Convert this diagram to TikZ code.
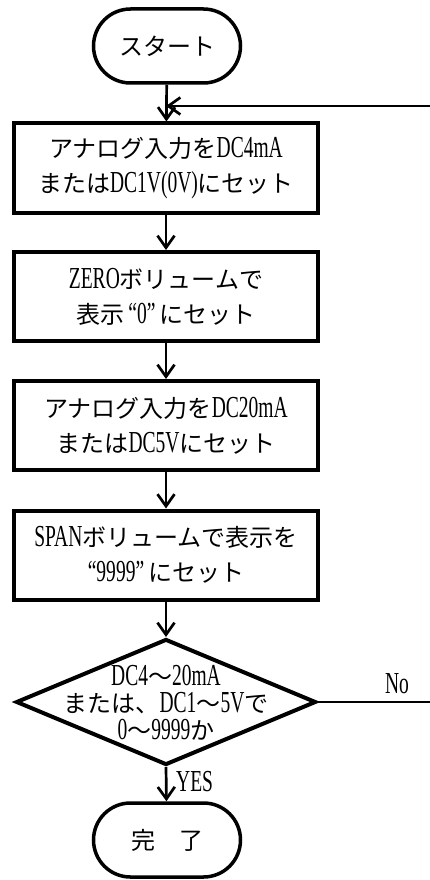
\documentclass[tikz,border=0pt]{standalone}
\usepackage{fontspec}
\setmainfont[FakeStretch=0.64,Scale=1.22]{Liberation Serif}
\newfontfamily\jp[Scale=0.96]{Noto Sans CJK JP}
\usetikzlibrary{arrows.meta,shapes.geometric}
\begin{document}
\begin{tikzpicture}[x=1pt,y=-1pt,
  every node/.style={font=\fontsize{25}{35}\selectfont},
  proc/.style={draw, line width=4pt, minimum width=304pt, minimum height=89pt, align=center, inner sep=0pt},
  term/.style={draw, line width=3.5pt, rounded corners=37pt, minimum width=147pt, minimum height=74pt, inner sep=0pt},
  decision/.style={draw, diamond, line width=4pt, minimum width=300pt, minimum height=126pt, inner sep=0pt},
  conn/.style={line width=2.7pt, -{Straight Barb[length=12pt,width=17pt]}},
  plain/.style={line width=2.7pt},
  lbl/.style={inner sep=0pt}]
\useasboundingbox (0,0) rectangle (430,880);

\node[term] (start) at (167,46) {\jp スタート};
\node[proc] (box1) at (166,168) {{\jp アナログ入力を}DC4mA\\{\jp または}DC1V(0V){\jp にセット}};
\node[proc] (box2) at (166,296.5) {ZERO{\jp ボリュームで}\\{\jp 表示}\hspace{4pt}“0”\hspace{4pt}{\jp にセット}};
\node[proc] (box3) at (166,425.5) {{\jp アナログ入力を}DC20mA\\{\jp または}DC5V{\jp にセット}};
\node[proc] (box4) at (166,555) {SPAN{\jp ボリュームで表示を}\\“9999”\hspace{4pt}{\jp にセット}};
\node[decision] (dec) at (166,702) {};
\node[lbl, align=center, font=\fontsize{25}{27}\selectfont] (dectext) at (166,703) {DC4{\jp ～}20mA\\{\jp または、}DC1{\jp ～}5V{\jp で}\\0{\jp ～}9999{\jp か}};
\node[term] (stop) at (167,840) {\jp 完　了};

\coordinate (fb) at (430,106);
\coordinate (noend) at (430,702);

\draw[conn] (start) -- (box1);
\draw[conn] (fb) -- (box1.north |- fb);
\draw[conn] (box1) -- (box2);
\draw[conn] (box2) -- (box3);
\draw[conn] (box3) -- (box4);
\draw[conn] (box4) -- (dec.north);
\draw[conn] (dec.south) -- (stop);
\draw[plain] (dec.east) -- (noend);

\node[lbl, anchor=west] (yes) at (176,782) {YES};
\node[lbl] (no) at (397,684) {No};
\end{tikzpicture}
\end{document}
